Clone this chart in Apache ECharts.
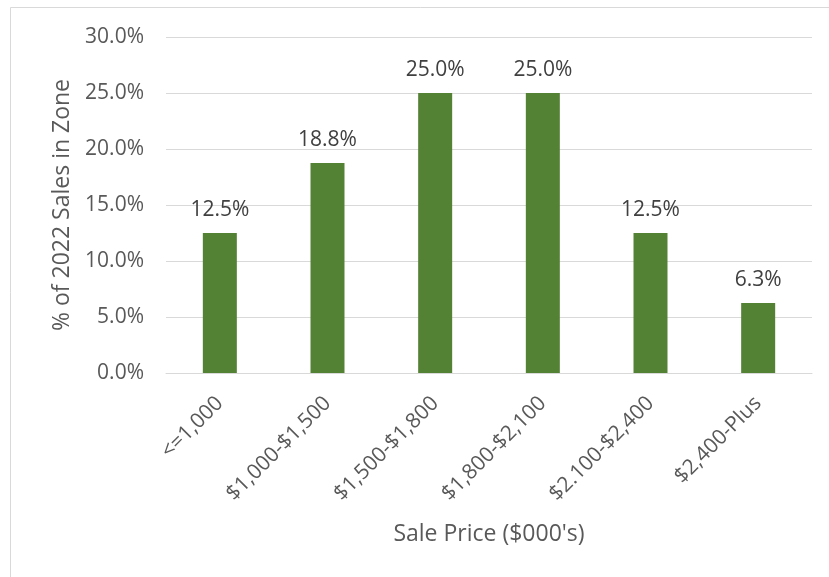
<!DOCTYPE html>
<html>
<head>
<meta charset="utf-8">
<script src="https://cdn.jsdelivr.net/npm/echarts@6/dist/echarts.min.js"></script>
<style>html,body{margin:0;padding:0;background:#fff}#c{width:829px;height:577px}</style>
</head>
<body>
<div id="c"></div>
<script>
const categories = ['<=1,000', '$1,000-$1,500', '$1,500-$1,800', '$1,800-$2,100', '$2.100-$2,400', '$2,400-Plus'];
const shares = [12.5, 18.75, 25.0, 25.0, 12.5, 6.25];
const yTicks = { min: 0, max: 30, interval: 5 };
const xTitle = "Sale Price ($000's)";
const yTitle = '% of 2022 Sales in Zone';

const FONT = '"Open Sans", sans-serif';
const GREY = '#595959';
const chart = echarts.init(document.getElementById('c'), null, { renderer: 'canvas' });
chart.setOption({
  animation: false,
  backgroundColor: '#ffffff',
  graphic: [{
    type: 'rect', silent: true,
    shape: { x: 10.5, y: 7.5, width: 840, height: 600 },
    style: { fill: 'none', stroke: '#d9d9d9', lineWidth: 1 }
  }],
  grid: { left: 166, right: 17, top: 37, bottom: 204, containLabel: false },
  xAxis: {
    type: 'category',
    data: categories,
    axisLine: { show: true, lineStyle: { color: '#d9d9d9', width: 1 } },
    axisTick: { show: false },
    axisLabel: { rotate: 45, margin: 27, color: GREY, fontFamily: FONT, fontSize: 21, interval: 0 },
    name: xTitle,
    nameLocation: 'middle',
    nameGap: 150,
    nameTextStyle: { color: GREY, fontFamily: FONT, fontSize: 23 }
  },
  yAxis: {
    type: 'value',
    min: yTicks.min, max: yTicks.max, interval: yTicks.interval,
    axisLine: { show: false },
    axisTick: { show: false },
    splitLine: { lineStyle: { color: '#d9d9d9', width: 1 } },
    axisLabel: { margin: 22, color: GREY, fontFamily: FONT, fontSize: 21, formatter: v => v.toFixed(1) + '%' },
    name: yTitle,
    nameLocation: 'middle',
    nameGap: 91,
    nameRotate: 90,
    nameTextStyle: { color: GREY, fontFamily: FONT, fontSize: 23 }
  },
  series: [{
    type: 'bar',
    data: shares,
    barWidth: 34,
    itemStyle: { color: '#548235' },
    label: {
      show: true, position: 'top', distance: 12,
      color: '#404040', fontFamily: FONT, fontSize: 21,
      formatter: p => p.value.toFixed(1) + '%'
    }
  }]
});
</script>
</body>
</html>
